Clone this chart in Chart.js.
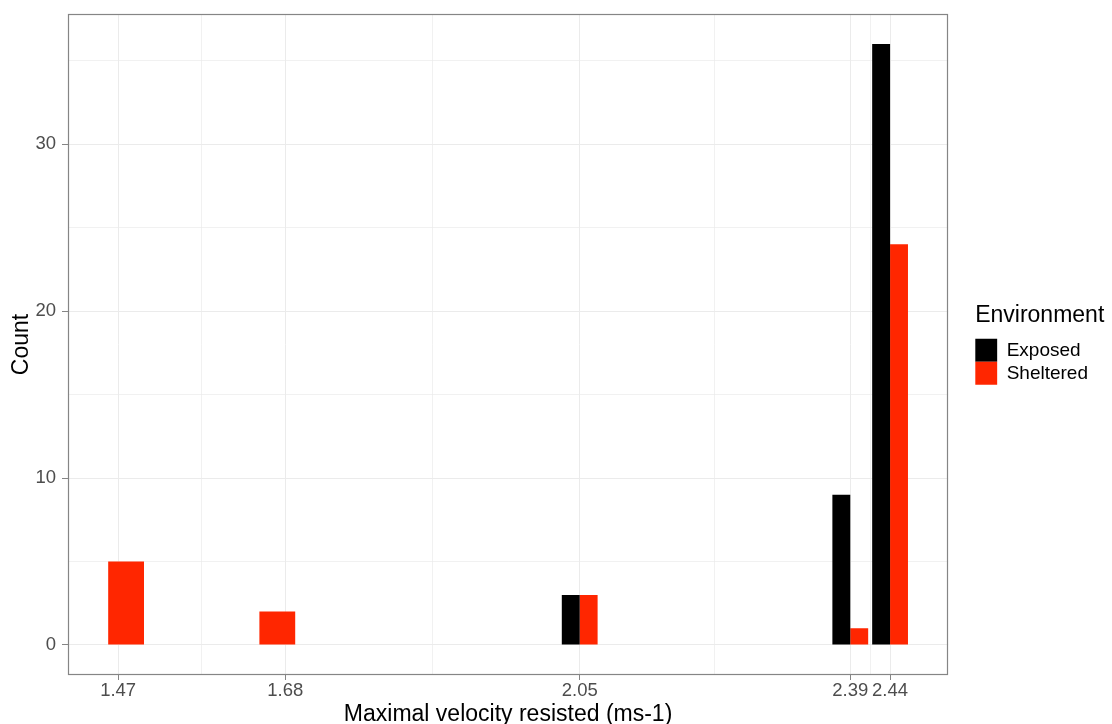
<!DOCTYPE html>
<html lang="en">
<head>
    <meta charset="UTF-8">
    <title>Maximal velocity resisted</title>
    <script src="https://cdn.jsdelivr.net/npm/chart.js"></script>
    <style>
        html, body { margin: 0; padding: 0; overflow: hidden; background: #fff; }
        #wrap { position: relative; width: 1112px; height: 738px; }
    </style>
</head>
<body>
    <div id="wrap"><canvas id="velChart"></canvas></div>

    <script>
        // bar centres on the x axis (ms-1) and counts per environment
        const velocity = [1.48, 1.67, 2.05, 2.39, 2.44];
        const exposed = [null, null, 3, 9, 36];
        const sheltered = [5, 2, 3, 1, 24];

        // axis breaks
        const xTicks = [1.47, 1.68, 2.05, 2.39, 2.44];
        const xMinor = [1.575, 1.865, 2.22, 2.415];
        const yTicks = [0, 5, 10, 15, 20, 25, 30, 35];
        const yMajor = [0, 10, 20, 30];

        const FONT = "'Liberation Sans', Arial, Helvetica, sans-serif";
        const GRID = '#ebebeb';
        const FRAME = '#858585';

        // ggplot-like frame round the panel; legend sits beside the panel only
        const panelBorder = {
            id: 'panelBorder',
            afterLayout(chart) {
                const lg = chart.legend;
                if (lg) {
                    lg.right = chart.width;
                    lg.width = lg.right - lg.left;
                    lg.top = chart.chartArea.top;
                    lg.bottom = chart.chartArea.bottom;
                    lg.height = lg.bottom - lg.top;
                }
            },
            afterDatasetsDraw(chart) {
                const { ctx, chartArea: a } = chart;
                ctx.save();
                ctx.strokeStyle = FRAME;
                ctx.lineWidth = 1.2;
                ctx.strokeRect(Math.round(a.left) + 0.5, Math.round(a.top) + 0.5,
                    Math.round(a.width) - 1, Math.round(a.height) - 1);
                ctx.restore();
            }
        };

        const isMajorY = ctx => ctx.tick && yMajor.includes(ctx.tick.value);

        new Chart(document.getElementById('velChart'), {
            type: 'bar',
            data: {
                datasets: [
                    { label: 'Exposed', data: velocity.map((x, i) => ({ x, y: exposed[i] })), backgroundColor: '#000000', borderWidth: 0 },
                    { label: 'Sheltered', data: velocity.map((x, i) => ({ x, y: sheltered[i] })), backgroundColor: '#ff2600', borderWidth: 0 }
                ]
            },
            options: {
                responsive: true,
                maintainAspectRatio: false,
                animation: false,
                skipNull: true,
                categoryPercentage: 0.9,
                barPercentage: 1.0,
                layout: { padding: { top: 14, left: 8, right: 14, bottom: 0 } },
                scales: {
                    x: {
                        type: 'linear',
                        offset: false,
                        min: 1.407, max: 2.513,
                        afterBuildTicks: axis => { axis.ticks = xTicks.map(v => ({ value: v })); },
                        afterFit: axis => { axis.height = 63; },
                        ticks: {
                            autoSkip: false, maxRotation: 0, padding: 2,
                            color: '#4d4d4d',
                            font: { family: FONT, size: 18.5, lineHeight: 1 },
                            callback: v => v.toFixed(2)
                        },
                        grid: { offset: false, color: GRID, lineWidth: 1, tickLength: 5, tickColor: FRAME },
                        border: { display: false },
                        title: {
                            display: true, text: 'Maximal velocity resisted (ms-1)', color: '#000',
                            font: { family: FONT, size: 23 }, padding: { top: 0, bottom: 10 }
                        }
                    },
                    xMinorGrid: {
                        type: 'linear', position: 'top', axis: 'x',
                        offset: false,
                        min: 1.407, max: 2.513,
                        afterBuildTicks: axis => { axis.ticks = xMinor.map(v => ({ value: v })); },
                        ticks: { display: false },
                        grid: { offset: false, color: GRID, lineWidth: 0.7, drawTicks: false },
                        border: { display: false }
                    },
                    y: {
                        min: -1.8, max: 37.8,
                        afterBuildTicks: axis => { axis.ticks = yTicks.map(v => ({ value: v })); },
                        afterFit: axis => { axis.width = 60; },
                        ticks: {
                            padding: 6, color: '#4d4d4d',
                            font: { family: FONT, size: 18.5, lineHeight: 0.8 },
                            callback: v => yMajor.includes(v) ? String(v) : ''
                        },
                        grid: {
                            color: GRID,
                            lineWidth: ctx => isMajorY(ctx) ? 1 : 0.7,
                            tickLength: 6,
                            tickColor: ctx => isMajorY(ctx) ? FRAME : 'rgba(0,0,0,0)'
                        },
                        border: { display: false },
                        title: {
                            display: true, text: 'Count', color: '#000',
                            font: { family: FONT, size: 23 }, padding: 0
                        }
                    },
                    gap: {
                        type: 'linear', position: 'right', axis: 'y',
                        ticks: { display: false },
                        grid: { display: false, drawTicks: false },
                        border: { display: false },
                        afterFit: axis => { axis.width = 27; }
                    }
                },
                plugins: {
                    legend: {
                        position: 'right',
                        align: 'center',
                        title: {
                            display: true, text: 'Environment', position: 'start', color: '#000',
                            font: { family: FONT, size: 23 }, padding: { top: 0, bottom: 7 }
                        },
                        labels: {
                            boxWidth: 22, boxHeight: 23, padding: 0, color: '#000',
                            font: { family: FONT, size: 19 }
                        }
                    },
                    tooltip: { enabled: false }
                }
            },
            plugins: [panelBorder]
        });
    </script>
</body>
</html>
